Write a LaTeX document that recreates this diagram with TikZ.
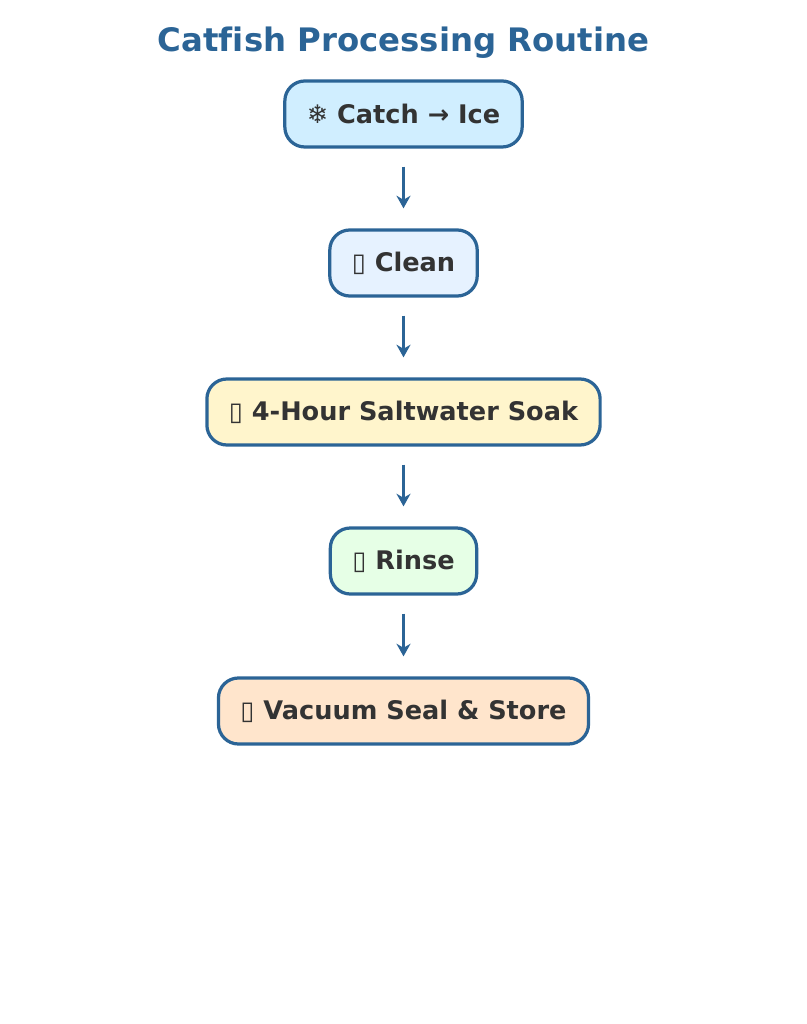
\documentclass[tikz,border=0pt]{standalone}
\usepackage{fontspec}
\setmainfont{DejaVu Sans}[Ligatures=NoCommon]
\usetikzlibrary{graphs,arrows.meta}
\definecolor{edgeblue}{HTML}{2B6496}
\definecolor{txtgray}{HTML}{333333}

\begin{document}
\begin{tikzpicture}[
x=0.025cm, y=-0.025cm,
>={Stealth[length=9pt,width=10pt]},
stepbox/.style={%
    rectangle,
    minimum height=1.65cm,
    inner xsep=0.55cm,
    rounded corners=0.5cm,
    line width=2.3pt,
    draw=edgeblue,
    text=txtgray,
    font=\fontsize{18.2}{21}\selectfont\bfseries,
},
flow/.style={edgeblue,line width=2.3pt,shorten <=0.45cm,shorten >=0.5cm},
]
\useasboundingbox (0,0) rectangle (807,1024);
% Title
\node[text=edgeblue,font=\fontsize{23}{27}\selectfont\bfseries] at (403.5,43) (title) {Catfish Processing Routine};
% Nodes
\node[stepbox,fill={rgb,255:red,208;green,238;blue,255}] at (403.5,114) (catch) {❄ Catch → Ice};
\node[stepbox,fill={rgb,255:red,230;green,242;blue,255}] at (403.5,263) (clean) {▯ Clean};
\node[stepbox,fill={rgb,255:red,255;green,245;blue,204}] at (403.5,412) (soak)  {▯ 4-Hour Saltwater Soak};
\node[stepbox,fill={rgb,255:red,230;green,255;blue,230}] at (403.5,561) (rinse) {▯ Rinse};
\node[stepbox,fill={rgb,255:red,255;green,229;blue,204}] at (403.5,711) (store) {▯ Vacuum Seal \& Store};
% Lines
\graph [use existing nodes, edges={flow}] {
    catch -> clean -> soak -> rinse -> store;
};
\end{tikzpicture}
\end{document}
